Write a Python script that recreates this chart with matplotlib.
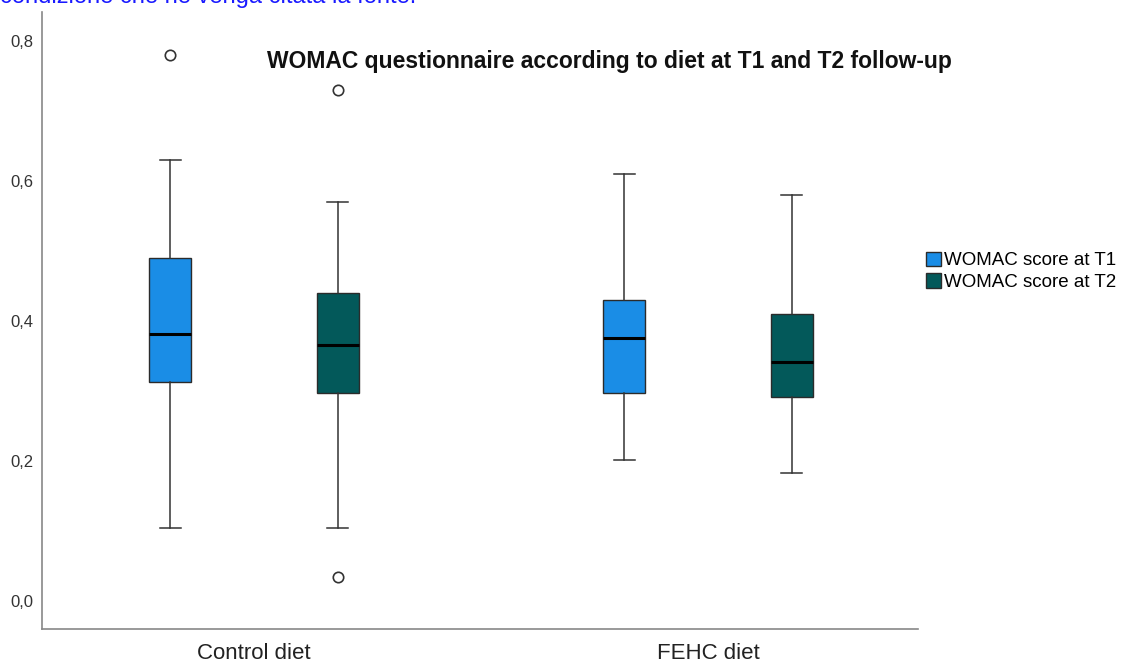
import matplotlib.pyplot as plt
from matplotlib.patches import Patch

plt.rcParams['font.family'] = ['Liberation Sans', 'DejaVu Sans']

groups = ['Control diet', 'FEHC diet']
series = ['WOMAC score at T1', 'WOMAC score at T2']
colors = ['#1a8de6', '#03595a']

# five-number summaries: low whisker, Q1, median, Q3, high whisker
t1_stats = [
    [0.104, 0.313, 0.381, 0.490, 0.629],
    [0.201, 0.297, 0.376, 0.430, 0.609],
]
t2_stats = [
    [0.104, 0.297, 0.366, 0.440, 0.570],
    [0.183, 0.291, 0.341, 0.410, 0.579],
]
t1_outliers = [[0.779], []]
t2_outliers = [[0.729, 0.034], []]

yticks = [0.0, 0.2, 0.4, 0.6, 0.8]
ytick_labels = ['0,0', '0,2', '0,4', '0,6', '0,8']


def to_bxp(stats, outliers):
    out = []
    for s, fl in zip(stats, outliers):
        out.append({'whislo': s[0], 'q1': s[1], 'med': s[2], 'q3': s[3],
                    'whishi': s[4], 'fliers': fl})
    return out


fig = plt.figure(figsize=(11.22, 6.64), dpi=100)
ax = fig.add_axes([42 / 1122, 35 / 664, 876 / 1122, 617 / 664])

centers = [1, 2]
offset = 0.185
width = 0.0925
for k, (stats, fl) in enumerate([(t1_stats, t1_outliers), (t2_stats, t2_outliers)]):
    pos = [c + (offset if k else -offset) for c in centers]
    ax.bxp(to_bxp(stats, fl), positions=pos, widths=width, patch_artist=True,
           boxprops=dict(facecolor=colors[k], edgecolor='#2b2b2b', linewidth=1),
           medianprops=dict(color='black', linewidth=2.2),
           whiskerprops=dict(color='#333333', linewidth=1.1),
           capprops=dict(color='#333333', linewidth=1.1),
           flierprops=dict(marker='o', markerfacecolor='white', markeredgecolor='#333333',
                           markersize=7.5, markeredgewidth=1.2),
           capwidths=width / 2)

ax.set_xlim(0.533, 2.4626)
ax.set_ylim(-0.04, 0.841)
ax.set_xticks(centers)
ax.set_xticklabels(groups, fontsize=16, color='#222222')
ax.set_yticks(yticks)
ax.set_yticklabels(ytick_labels, fontsize=12, color='#333333')
ax.tick_params(length=0, pad=6)
ax.tick_params(axis='x', pad=10)
for s in ['top', 'right']:
    ax.spines[s].set_visible(False)
for s in ['left', 'bottom']:
    ax.spines[s].set_color('#888888')
    ax.spines[s].set_linewidth(1.2)

ax.text(0.648, 0.920, 'WOMAC questionnaire according to diet at T1 and T2 follow-up',
        transform=ax.transAxes, ha='center', va='center', fontsize=16.5,
        fontweight='bold', color='#111111')

handles = [Patch(facecolor=c, edgecolor='#2b2b2b', label=l) for c, l in zip(colors, series)]
fig.legend(handles=handles, loc='upper left', bbox_to_anchor=(918 / 1122, 1 - 244 / 664),
           frameon=False, fontsize=13.5, handlelength=0.85, handleheight=0.85,
           handletextpad=0.12, labelspacing=0.2, borderaxespad=0)

# caption line cut by the top edge, as in the source screenshot
fig.text(0.0, 1 - 3 / 664, 'condizione che ne venga citata la fonte.', color='#1a1aff',
         fontsize=17, ha='left', va='baseline')

fig.savefig('out.png', dpi=100)
